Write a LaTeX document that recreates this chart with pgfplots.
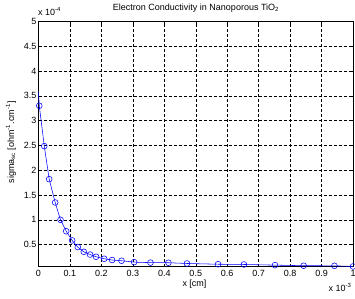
\documentclass[border=0pt]{standalone}
\usepackage{pgfplots}
\pgfplotsset{compat=1.18}
\usepackage{fontspec}
\setmainfont{Liberation Sans}
\definecolor{mblue}{RGB}{0,0,255}
\begin{document}
\fontsize{9pt}{10.8pt}\selectfont
\begin{tikzpicture}
\begin{axis}[
  scale only axis, width=314.5pt, height=245.3pt,
  xmin=0, xmax=1, ymin=0.055, ymax=5,
  xtick={0,0.1,0.2,0.3,0.4,0.5,0.6,0.7,0.8,0.9,1},
  xticklabels={0,0.1,0.2,0.3,0.4,0.5,0.6,0.7,0.8,0.9,1},
  ytick={0.5,1,1.5,2,2.5,3,3.5,4,4.5,5},
  yticklabels={0.5,1,1.5,2,2.5,3,3.5,4,4.5,5},
  tick align=inside, major tick length=3pt,
  xtick pos=both, ytick pos=both,
  grid=major,
  major grid style={black, dash pattern=on 3pt off 2pt, line width=0.45pt},
  axis line style={black, line width=0.5pt},
  tick style={black, line width=0.5pt},
  ticklabel style={font=\fontsize{9pt}{10.8pt}\selectfont},
  yticklabel style={inner sep=2pt},
  /pgf/number format/assume math mode=true,
  clip=false,
]
\addplot[mblue, line width=0.55pt, mark=none] coordinates {
(0,3.57) (0.0025,3.30) (0.0184,2.486) (0.034,1.82) (0.053,1.35) (0.070,1.00)
(0.088,0.77) (0.107,0.585) (0.125,0.45) (0.144,0.355) (0.164,0.30) (0.183,0.255)
(0.209,0.215) (0.234,0.19) (0.264,0.175) (0.304,0.147) (0.356,0.137) (0.413,0.135)
(0.472,0.12) (0.571,0.105) (0.653,0.10) (0.752,0.087) (0.843,0.075) (0.941,0.073) (1.0,0.06)
};
\addplot[mblue, line width=0.55pt, only marks, mark=o, mark size=2.9pt] coordinates {
(0.0025,3.30) (0.0184,2.486) (0.034,1.82) (0.053,1.35) (0.070,1.00)
(0.088,0.77) (0.107,0.585) (0.125,0.45) (0.144,0.355) (0.164,0.30) (0.183,0.255)
(0.209,0.215) (0.234,0.19) (0.264,0.175) (0.304,0.147) (0.356,0.137) (0.413,0.135)
(0.472,0.12) (0.571,0.105) (0.653,0.10) (0.752,0.087) (0.843,0.075) (0.941,0.073) (1.0,0.06)
};
\end{axis}
\node[anchor=base] at (157.5pt,256.7pt) {Electron Conductivity in Nanoporous TiO\textsubscript{2}};
\node[anchor=base west, inner sep=0pt] at (-0.5pt,251.7pt) {x 10\textsuperscript{-4}};
\node[anchor=base west, inner sep=0pt] at (290pt,-25pt) {x 10\textsuperscript{-3}};
\node[anchor=base] at (156pt,-19.5pt) {x [cm]};
\node[rotate=90, anchor=base] at (-24.5pt,124.5pt) {sigma\textsubscript{sc} [ohm\textsuperscript{-1}.cm\textsuperscript{-1}]};
\pgfresetboundingbox
\path[use as bounding box] (-38.5pt,-31.3pt) rectangle (316.5pt,266.7pt);
\end{tikzpicture}
\end{document}
